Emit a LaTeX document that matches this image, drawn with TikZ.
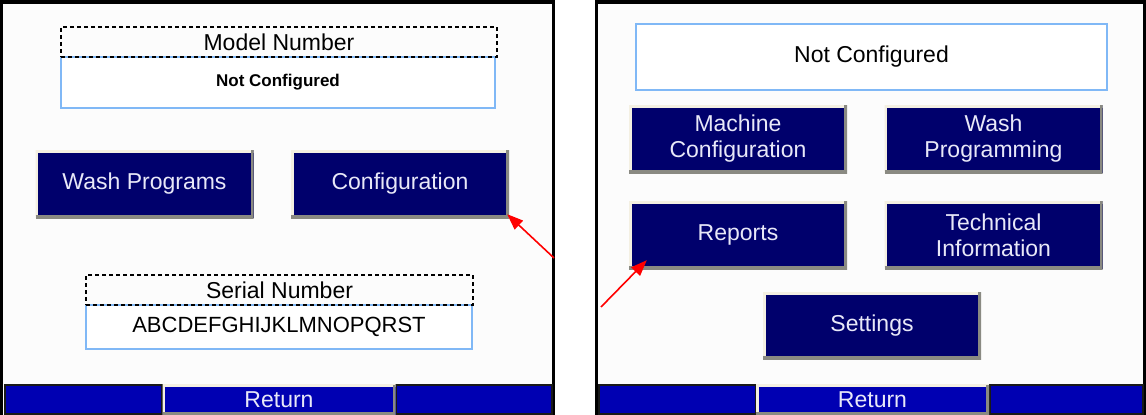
\documentclass[tikz,border=0pt]{standalone}
\usepackage{fontspec}
\setmainfont{Liberation Sans}
\usepackage{xcolor}
\usepackage{tikz}
\usetikzlibrary{arrows.meta}
\definecolor{navybtn}{RGB}{0,0,108}
\definecolor{barblue}{RGB}{0,0,178}
\definecolor{btntext}{RGB}{232,232,248}
\definecolor{bevlight}{RGB}{244,240,226}
\definecolor{bevdark}{RGB}{138,138,130}
\definecolor{boxblue}{RGB}{128,184,246}
\definecolor{screenbg}{RGB}{252,252,252}
\tikzset{
    bevel/.style={path picture={
        \draw[bevlight, line width=5pt] (path picture bounding box.south west) -- (path picture bounding box.north west) -- (path picture bounding box.north east);
        \draw[bevdark, line width=6pt] (path picture bounding box.south west) -- (path picture bounding box.south east) -- (path picture bounding box.north east);}},
    button/.style={bevel, fill=navybtn, text=btntext, minimum width=218pt, minimum height=68pt, inner sep=0pt, align=center, font=\fontsize{23}{26}\selectfont},
    infobox/.style={draw=boxblue, line width=1.5pt, fill=white, minimum height=44pt, inner sep=0pt, font=\fontsize{23}{26}\selectfont},
    labelbox/.style={draw=black, line width=1.2pt, dash pattern=on 4pt off 3pt, minimum height=30pt, inner sep=0pt, font=\fontsize{23}{26}\selectfont},
    barseg/.style={fill=barblue, draw=black!90, line width=2pt, minimum height=29pt, inner sep=0pt},
    retbtn/.style={bevel, fill=barblue, text=btntext, minimum height=30pt, inner sep=0pt, font=\fontsize{23}{26}\selectfont},
    screen/.style={draw=black, line width=3.5pt, fill=screenbg},
    pointer/.style={draw=red, line width=1.6pt, -{Triangle[length=16pt, width=12pt]}}
}
\begin{document}
\begin{tikzpicture}[x=1pt, y=-1pt]
    \useasboundingbox[fill=white] (0,0) rectangle (1146,415);
    % Screens
    \draw[screen] (1.5,420) -- (1.5,2) -- (553.5,2) -- (553.5,420);
    \draw[screen] (596.5,420) -- (596.5,2) -- (1144.5,2) -- (1144.5,420);

    % Left screen
    \node[infobox, minimum width=434pt, minimum height=51pt, font=\fontsize{17}{20}\bfseries] (modelval) at (278,82.5) {Not Configured};
    \node[labelbox, minimum width=436pt] (modellbl) at (279,42) {Model Number};
    \node[button] (washprog) at (144.5,184) {Wash Programs};
    \node[button] (config) at (400,184) {Configuration};
    \node[infobox, minimum width=386pt, font=\fontsize{22}{26}\selectfont] (serialval) at (279,327) {ABCDEFGHIJKLMNOPQRST};
    \node[labelbox, minimum width=387pt] (seriallbl) at (279.5,290) {Serial Number};
    \node[barseg, minimum width=157pt] (lbarl) at (83,399.5) {};
    \node[barseg, minimum width=156pt] (lbarr) at (473.5,399.5) {};
    \node[retbtn, minimum width=233pt] (lret) at (279,399.5) {Return};

    % Right screen
    \node[infobox, minimum width=471pt, minimum height=66pt] (rstatus) at (871.5,57) {Not Configured};
    \node[button] (machcfg) at (738,139) {Machine\\Configuration};
    \node[button] (washpgm) at (993.5,139) {Wash\\Programming};
    \node[button] (reports) at (738,235) {Reports};
    \node[button] (techinfo) at (993.5,235) {Technical\\Information};
    \node[button, minimum height=67pt] (settings) at (872,325.5) {Settings};
    \node[barseg, minimum width=157pt] (rbarl) at (677.5,399.5) {};
    \node[barseg, minimum width=153pt] (rbarr) at (1066.5,399.5) {};
    \node[retbtn, minimum width=233pt] (rret) at (872.5,399.5) {Return};

    % Pointers
    \coordinate (ltail) at (554,258);
    \coordinate (rtail) at (601,307);
    \draw[pointer] (ltail) -- ([xshift=-2pt, yshift=4pt]config.south east);
    \draw[pointer] (rtail) -- ([xshift=18pt, yshift=9pt]reports.south west);
\end{tikzpicture}
\end{document}
